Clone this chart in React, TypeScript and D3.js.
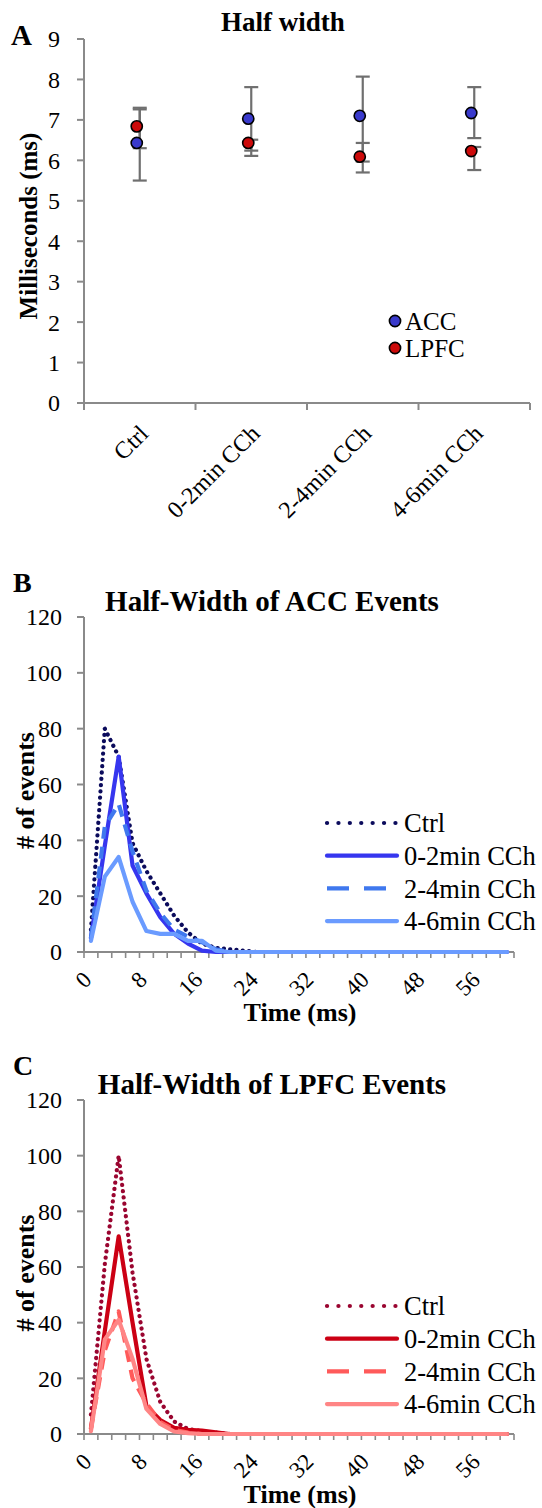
import * as d3 from 'd3';
import React from 'react';

// Panel A: means and error-bar ends (ms)
const groups = ['Ctrl', '0-2min CCh', '2-4min CCh', '4-6min CCh'];
const accMean = [6.43, 7.03, 7.1, 7.17];
const accLow = [5.5, 6.24, 5.97, 6.55];
const accHigh = [7.3, 7.81, 8.07, 7.81];
const lpfcMean = [6.84, 6.43, 6.09, 6.23];
const lpfcLow = [6.3, 6.11, 5.7, 5.76];
const lpfcHigh = [7.26, 6.51, 6.43, 6.33];
const msTicks = [0, 1, 2, 3, 4, 5, 6, 7, 8, 9];

// Panels B/C: histogram of half widths
const times = [0, 2, 4, 6, 8, 10, 12, 14, 16, 18, 20, 22, 24, 26, 28, 30, 32, 34, 36, 38, 40, 42, 44, 46, 48, 50, 52, 54, 56, 58, 60];
const timeLabels = [0, 8, 16, 24, 32, 40, 48, 56];
const countTicks = [0, 20, 40, 60, 80, 100, 120];
const seriesNames = ['Ctrl', '0-2min CCh', '2-4min CCh', '4-6min CCh'];

const accCtrl = [8, 80, 70, 39, 29, 21, 13, 7, 3, 1.5, 1, 0.5, 0, 0, 0, 0, 0, 0, 0, 0, 0, 0, 0, 0, 0, 0, 0, 0, 0, 0, 0];
const acc02 = [5, 38, 70, 31, 21, 12.5, 6.5, 3, 0.5, 0, 0, 0, 0, 0, 0, 0, 0, 0, 0, 0, 0, 0, 0, 0, 0, 0, 0, 0, 0, 0, 0];
const acc24 = [5, 45, 53, 36, 22, 14, 8, 5.5, 3.5, 1, 0, 0, 0, 0, 0, 0, 0, 0, 0, 0, 0, 0, 0, 0, 0, 0, 0, 0, 0, 0, 0];
const acc46 = [4, 27, 34, 18, 7.5, 6.5, 6.5, 4, 4, 0.5, 0, 0, 0, 0, 0, 0, 0, 0, 0, 0, 0, 0, 0, 0, 0, 0, 0, 0, 0, 0, 0];

const lpfcCtrl = [7, 61, 100, 58, 27, 11.5, 4.5, 1.8, 1, 0.5, 0, 0, 0, 0, 0, 0, 0, 0, 0, 0, 0, 0, 0, 0, 0, 0, 0, 0, 0, 0, 0];
const lpfc02 = [2, 37, 71, 40, 10, 5, 2.2, 1.5, 1.2, 0.6, 0, 0, 0, 0, 0, 0, 0, 0, 0, 0, 0, 0, 0, 0, 0, 0, 0, 0, 0, 0, 0];
const lpfc24 = [2, 30, 44, 20, 11, 4.3, 1.5, 0.5, 0, 0, 0, 0, 0, 0, 0, 0, 0, 0, 0, 0, 0, 0, 0, 0, 0, 0, 0, 0, 0, 0, 0];
const lpfc46 = [1, 34, 41, 27, 9, 3.6, 0.9, 0.3, 0, 0, 0, 0, 0, 0, 0, 0, 0, 0, 0, 0, 0, 0, 0, 0, 0, 0, 0, 0, 0, 0, 0];

const FONT = '"Liberation Serif", "Times New Roman", serif';
const AXIS = '#8a8a8a';

type LineStyle = { color: string; dash?: string; legendDash?: string; cap: 'round' | 'butt' };

const accStyles: LineStyle[] = [
    { color: '#0b0b5c', dash: '0.1 6.2', legendDash: '0.1 11.3', cap: 'round' },
    { color: '#3636ef', cap: 'round' },
    { color: '#3f78ee', dash: '12 8', legendDash: '22 15', cap: 'butt' },
    { color: '#6a9bff', cap: 'round' },
];
const lpfcStyles: LineStyle[] = [
    { color: '#9a0530', dash: '0.1 6.2', legendDash: '0.1 11.3', cap: 'round' },
    { color: '#cc0014', cap: 'round' },
    { color: '#ff5a5a', dash: '12 8', legendDash: '22 15', cap: 'butt' },
    { color: '#ff8585', cap: 'round' },
];

const W = 542;
const H = 1508;

const PanelA: React.FC = () => {
    const x = d3.scaleBand<string>().domain(groups).range([84, 530]);
    const y = d3.scaleLinear().domain([0, 9]).range([403, 39]);
    const cx = (g: string) => (x(g) ?? 0) + x.bandwidth() / 2;
    const cap = 7;
    const bars = [
        { mean: accMean, low: accLow, high: accHigh, fill: '#3a3acc' },
        { mean: lpfcMean, low: lpfcLow, high: lpfcHigh, fill: '#cc0a0a' },
    ];
    const boundaries = [...groups.map((g) => x(g) ?? 0), x.range()[1]];
    return (
        <g fontFamily={FONT}>
            <text x={283} y={31} fontSize={27} fontWeight="bold" textAnchor="middle">Half width</text>
            <text x={11} y={45} fontSize={29} fontWeight="bold">A</text>
            {/* y axis */}
            <line x1={84} x2={84} y1={y(9)} y2={y(0)} stroke={AXIS} strokeWidth={2} />
            {msTicks.map((t) => (
                <g key={t}>
                    <line x1={77} x2={84} y1={y(t)} y2={y(t)} stroke={AXIS} strokeWidth={2} />
                    <text x={60} y={y(t)} dy="0.35em" fontSize={24} textAnchor="end">{t}</text>
                </g>
            ))}
            <text transform={`translate(37,226) rotate(-90)`} fontSize={25} fontWeight="bold" textAnchor="middle">Milliseconds (ms)</text>
            {/* x axis */}
            <line x1={84} x2={x.range()[1]} y1={y(0)} y2={y(0)} stroke={AXIS} strokeWidth={2} />
            {boundaries.map((b, i) => (
                <line key={i} x1={b} x2={b} y1={y(0)} y2={y(0) + 7} stroke={AXIS} strokeWidth={2} />
            ))}
            {groups.map((g) => (
                <text key={g} transform={`translate(${cx(g) + 10},${y(0) + 32}) rotate(-45)`} fontSize={24} textAnchor="end">{g}</text>
            ))}
            {/* error bars */}
            {bars.map((s, si) =>
                groups.map((g, i) => (
                    <g key={`${si}-${g}`} stroke="#6f6f6f" strokeWidth={2.2}>
                        <line x1={cx(g)} x2={cx(g)} y1={y(s.low[i])} y2={y(s.high[i])} />
                        <line x1={cx(g) - cap} x2={cx(g) + cap} y1={y(s.low[i])} y2={y(s.low[i])} />
                        <line x1={cx(g) - cap} x2={cx(g) + cap} y1={y(s.high[i])} y2={y(s.high[i])} />
                    </g>
                ))
            )}
            {bars.map((s, si) =>
                groups.map((g, i) => (
                    <circle key={`d${si}-${g}`} cx={cx(g) - 3} cy={y(s.mean[i])} r={5.6} fill={s.fill} stroke="#000" strokeWidth={1.6} />
                ))
            )}
            {/* legend */}
            {['ACC', 'LPFC'].map((name, i) => (
                <g key={name}>
                    <circle cx={395} cy={321 + i * 27} r={5.6} fill={bars[i].fill} stroke="#000" strokeWidth={1.6} />
                    <text x={405} y={321 + i * 27} dy="0.35em" fontSize={25}>{name}</text>
                </g>
            ))}
        </g>
    );
};

interface HistProps {
    letter: string;
    title: string;
    top: number;
    bottom: number;
    data: number[][];
    styles: LineStyle[];
}

const HistPanel: React.FC<HistProps> = ({ letter, title, top, bottom, data, styles }) => {
    const keys = times.map(String);
    const x = d3.scaleBand<string>().domain(keys).range([84, 514]);
    const y = d3.scaleLinear().domain([0, 120]).range([bottom, top]);
    const cx = (t: number) => (x(String(t)) ?? 0) + x.bandwidth() / 2;
    const line = d3
        .line<number>()
        .x((d, i) => cx(times[i]))
        .y((d) => y(d));
    const boundaries = [...keys.map((k) => x(k) ?? 0), x.range()[1]];
    const legendY = (i: number) => top + 206 + i * 32.7;
    return (
        <g fontFamily={FONT}>
            <text x={13} y={top - 25} fontSize={28} fontWeight="bold">{letter}</text>
            <text x={272} y={top - 6} fontSize={29} fontWeight="bold" textAnchor="middle">{title}</text>
            <line x1={84} x2={84} y1={y(120)} y2={y(0)} stroke={AXIS} strokeWidth={2} />
            {countTicks.map((t) => (
                <g key={t}>
                    <line x1={77} x2={84} y1={y(t)} y2={y(t)} stroke={AXIS} strokeWidth={2} />
                    <text x={62} y={y(t)} dy="0.35em" fontSize={24} textAnchor="end">{t}</text>
                </g>
            ))}
            <text transform={`translate(34,${(top + bottom) / 2 + 6}) rotate(-90)`} fontSize={26} fontWeight="bold" textAnchor="middle"># of events</text>
            <line x1={84} x2={514} y1={y(0)} y2={y(0)} stroke={AXIS} strokeWidth={2} />
            {boundaries.map((b, i) => (
                <line key={i} x1={b} x2={b} y1={y(0)} y2={y(0) + 6} stroke={AXIS} strokeWidth={1.6} />
            ))}
            {timeLabels.map((t) => (
                <text key={t} transform={`translate(${cx(t) + 2},${y(0) + 29}) rotate(-45)`} fontSize={23} textAnchor="end">{t}</text>
            ))}
            <text x={300} y={y(0) + 69} fontSize={26} fontWeight="bold" textAnchor="middle">Time (ms)</text>
            {data.map((vals, si) => (
                <path
                    key={si}
                    d={line(vals) ?? ''}
                    fill="none"
                    stroke={styles[si].color}
                    strokeWidth={4.2}
                    strokeDasharray={styles[si].dash}
                    strokeLinecap={styles[si].cap}
                    strokeLinejoin="round"
                />
            ))}
            {seriesNames.map((name, i) => (
                <g key={name}>
                    <line
                        x1={327}
                        x2={397}
                        y1={legendY(i)}
                        y2={legendY(i)}
                        stroke={styles[i].color}
                        strokeWidth={4.2}
                        strokeDasharray={styles[i].legendDash}
                        strokeLinecap={styles[i].cap}
                    />
                    <text x={404} y={legendY(i)} dy="0.35em" fontSize={26.5}>{name}</text>
                </g>
            ))}
        </g>
    );
};

const App: React.FC = () => (
    <svg width={W} height={H} style={{ position: 'absolute', left: 0, top: 0, background: '#fff' }}>
        <rect width={W} height={H} fill="#fff" />
        <PanelA />
        <HistPanel letter="B" title="Half-Width of ACC Events" top={617} bottom={952} data={[accCtrl, acc02, acc24, acc46]} styles={accStyles} />
        <HistPanel letter="C" title="Half-Width of LPFC Events" top={1100} bottom={1434} data={[lpfcCtrl, lpfc02, lpfc24, lpfc46]} styles={lpfcStyles} />
    </svg>
);

export default App;
